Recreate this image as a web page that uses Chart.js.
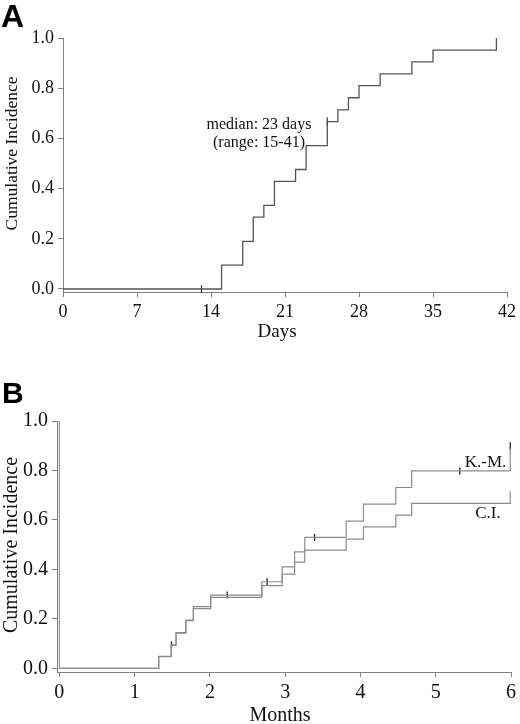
<!DOCTYPE html>
<html><head><meta charset="utf-8">
<script src="https://cdn.jsdelivr.net/npm/chart.js@4.4.1/dist/chart.umd.min.js"></script>
<style>
html,body{margin:0;padding:0;background:#fff;width:520px;height:724px;overflow:hidden}
canvas{position:absolute;left:0}
#a{top:0}#b{top:362px}
</style></head>
<body>
<canvas id="a" width="520" height="362"></canvas>
<canvas id="b" width="520" height="362"></canvas>
<script>
// ---- Panel A data ----
const daysA = [0, 15, 17, 18, 19, 20, 22, 23, 25, 26, 27, 28, 30, 33, 35, 41];
const incA  = [0, 0.095, 0.19, 0.286, 0.333, 0.429, 0.476, 0.571, 0.667, 0.714, 0.762, 0.81, 0.857, 0.905, 0.952, 1.0];
const censorDaysA = [13.1, 25];
const censorIncA  = [0, 0.667];
const xTicksA = [0, 7, 14, 21, 28, 35, 42];
const yTicks  = [0, 0.2, 0.4, 0.6, 0.8, 1.0];

// ---- Panel B data ----
const monthsB = [0, 1.32, 1.485, 1.55, 1.68, 1.78, 2.01, 2.69, 2.96, 3.125, 3.26, 3.81, 4.04, 4.47, 4.68, 5.99];
const kmB     = [0, 0.048, 0.095, 0.144, 0.195, 0.249, 0.296, 0.35, 0.41, 0.471, 0.529, 0.595, 0.664, 0.731, 0.798, 0.889];
const ciB     = [0, 0.047, 0.093, 0.142, 0.193, 0.241, 0.287, 0.334, 0.381, 0.429, 0.478, 0.522, 0.572, 0.619, 0.667, 0.716];
const startMonthsB = [0, 0];
const startIncB    = [0, 1.0];
const censorMonthsB = [1.49, 2.23, 2.76, 3.39, 5.32, 5.99];
const censorKmB     = [0.095, 0.296, 0.35, 0.529, 0.798, 0.9];
const xTicksB = [0, 1, 2, 3, 4, 5, 6];

const SERIF = '"Liberation Serif", "Times New Roman", serif';
const SANS = '"Liberation Sans", Arial, sans-serif';

const pts = (xs, ys) => xs.map((x, i) => ({x: x, y: ys[i]}));

const textPlugin = {
  id: 'freeText',
  afterDraw(chart, args, opts) {
    const ctx = chart.ctx;
    (opts.items || []).forEach(it => {
      ctx.save();
      ctx.fillStyle = it.color || '#111';
      ctx.font = it.font;
      ctx.textAlign = it.align || 'center';
      ctx.textBaseline = 'alphabetic';
      ctx.translate(it.x, it.y);
      if (it.rotate) ctx.rotate(it.rotate);
      ctx.fillText(it.text, 0, 0);
      ctx.restore();
    });
  }
};

function axisOpts(min, max, ticksArr, fontSize, fmt, fit) {
  return {
    type: 'linear', min: min, max: max,
    afterBuildTicks: s => { s.ticks = ticksArr.map(v => ({value: v})); },
    afterFit: fit,
    grid: {drawOnChartArea: false, drawTicks: true, tickLength: 5, color: '#808080', lineWidth: 1},
    border: {display: true, color: '#808080', width: 1},
    ticks: {color: '#111', font: {family: SERIF, size: fontSize}, padding: 4, maxRotation: 0, autoSkip: false, callback: fmt},
    title: {display: false}
  };
}

new Chart(document.getElementById('a'), {
  type: 'scatter',
  data: {datasets: [
    {data: pts(daysA, incA), showLine: true, stepped: true, borderColor: '#555', borderWidth: 1.3, pointRadius: 0, fill: false},
    {data: pts(censorDaysA, censorIncA), showLine: false, pointStyle: 'line', rotation: 90, pointRadius: 4, borderColor: '#333', borderWidth: 1.2, clip: false}
  ]},
  options: {
    responsive: false, animation: false, devicePixelRatio: 1,
    layout: {autoPadding: false, padding: {top: 38, left: 0, right: 8, bottom: 0}},
    plugins: {legend: {display: false}, tooltip: {enabled: false},
      freeText: {items: [
        {text: 'A', x: 1, y: 27, font: 'bold 32px ' + SANS, align: 'left', color: '#000'},
        {text: 'Cumulative Incidence', x: 17, y: 153.5, rotate: -Math.PI / 2, font: '17.5px ' + SERIF},
        {text: 'Days', x: 277, y: 337, font: '19px ' + SERIF},
        {text: 'median: 23 days', x: 259, y: 129, font: '16px ' + SERIF},
        {text: '(range: 15-41)', x: 259, y: 147, font: '16px ' + SERIF}
      ]}
    },
    scales: {
      x: axisOpts(0, 42, xTicksA, 18, v => String(v), s => { s.height = 70; }),
      y: axisOpts(-0.012, 1.0, yTicks, 18, v => v.toFixed(1), s => { s.width = 63; })
    }
  },
  plugins: [textPlugin]
});

new Chart(document.getElementById('b'), {
  type: 'scatter',
  data: {datasets: [
    {data: pts(startMonthsB, startIncB), showLine: true, borderColor: '#999', borderWidth: 1.2, pointRadius: 0},
    {data: pts(monthsB, kmB), showLine: true, stepped: true, borderColor: '#8c8c8c', borderWidth: 1.2, pointRadius: 0, fill: false},
    {data: pts(monthsB, ciB), showLine: true, stepped: true, borderColor: '#8c8c8c', borderWidth: 1.2, pointRadius: 0, fill: false},
    {data: pts(censorMonthsB, censorKmB), showLine: false, pointStyle: 'line', rotation: 90, pointRadius: 3.5, borderColor: '#222', borderWidth: 1.3, clip: false}
  ]},
  options: {
    responsive: false, animation: false, devicePixelRatio: 1,
    layout: {autoPadding: false, padding: {top: 59, left: 0, right: 4, bottom: 0}},
    plugins: {legend: {display: false}, tooltip: {enabled: false},
      freeText: {items: [
        {text: 'B', x: 2, y: 40.5, font: 'bold 30px ' + SANS, align: 'left', color: '#000'},
        {text: 'Cumulative Incidence', x: 17, y: 183, rotate: -Math.PI / 2, font: '20px ' + SERIF},
        {text: 'Months', x: 280, y: 359, font: '20px ' + SERIF},
        {text: 'K.-M.', x: 485.5, y: 105, font: '17px ' + SERIF},
        {text: 'C.I.', x: 488, y: 156, font: '17px ' + SERIF}
      ]}
    },
    scales: {
      x: axisOpts(-0.0315, 6, xTicksB, 20, v => String(v), s => { s.height = 52; }),
      y: axisOpts(-0.015, 1.0, yTicks, 20, v => v.toFixed(1), s => { s.width = 57; })
    }
  },
  plugins: [textPlugin]
});
</script>
</body></html>
